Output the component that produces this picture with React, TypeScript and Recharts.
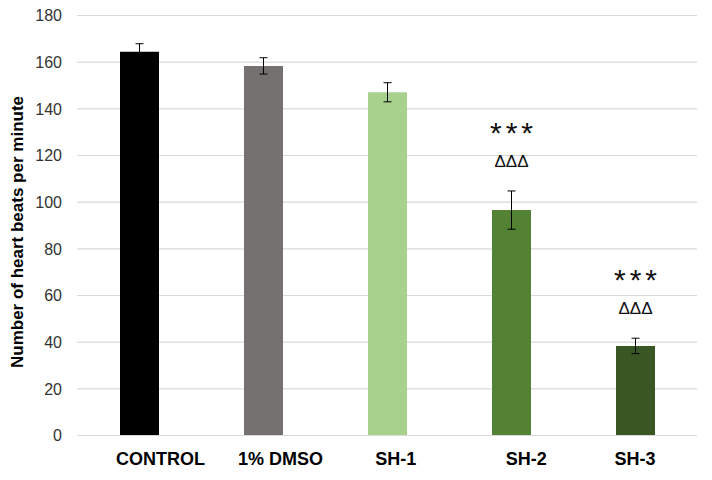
import { BarChart, Bar, XAxis, YAxis, CartesianGrid, ErrorBar, Cell, LabelList } from "recharts";

// ---- chart data ----
const categories = ["CONTROL", "1% DMSO", "SH-1", "SH-2", "SH-3"];
const beats = [164.5, 158.4, 147.1, 96.6, 38.4];
const errors = [3.4, 3.5, 4.1, 8.2, 3.3];
const stars = ["", "", "", "***", "***"];
const deltas = ["", "", "", "ΔΔΔ", "ΔΔΔ"];
const yTicks = [0, 20, 40, 60, 80, 100, 120, 140, 160, 180];

const barColors = ["#000000", "#767171", "#A9D18E", "#548235", "#385723"];
// category labels in the original sit a bit right of their bars
const labelShift = [21.5, 17.5, 8.8, 15.2, 0];

const W = 712;
const H = 480;
const X_AXIS_H = 44.5;
const M = { top: 15.5, right: 15, bottom: 0, left: 0 };
const Y_MAX = 180;
const pxPerUnit = (H - M.top - X_AXIS_H) / Y_MAX;
const FONT = "'Liberation Sans', Arial, sans-serif";

const data = categories.map((name, i) => ({
  name,
  beats: beats[i],
  err: errors[i],
  sig: stars[i],
}));

function CategoryTick(props: any) {
  const { x, y, payload, index } = props;
  return (
    <text
      x={x + (labelShift[index] ?? 0)}
      y={y + 29}
      textAnchor="middle"
      fontFamily={FONT}
      fontSize={18}
      fontWeight="bold"
      fill="#000"
    >
      {payload.value}
    </text>
  );
}

function SigLabel(props: any) {
  const { x, y, width, index } = props;
  if (!stars[index]) return null;
  const cx = x + width / 2;
  const errTop = y - errors[index] * pxPerUnit;
  return (
    <g fontFamily={FONT} fill="#111">
      <text x={cx + 2} y={errTop - 48} textAnchor="middle" fontSize={30} letterSpacing={4}>
        {stars[index]}
      </text>
      <text x={cx} y={errTop - 24} textAnchor="middle" fontSize={17}>
        {deltas[index]}
      </text>
    </g>
  );
}

export default function App() {
  return (
    <div style={{ position: "absolute", left: 0, top: 0, width: W, height: H, background: "#fff" }}>
      <BarChart width={W} height={H} data={data} margin={M}>
        <CartesianGrid vertical={false} stroke="#d9d9d9" strokeWidth={1.2} />
        <XAxis
          dataKey="name"
          axisLine={{ stroke: "#d9d9d9", strokeWidth: 1.2 }}
          tickLine={false}
          tickSize={0}
          tickMargin={0}
          height={X_AXIS_H}
          interval={0}
          tick={<CategoryTick />}
        />
        <YAxis
          width={77}
          domain={[0, Y_MAX]}
          ticks={yTicks}
          axisLine={false}
          tickLine={false}
          tickSize={0}
          tickMargin={15}
          tick={{ fontFamily: FONT, fontSize: 16, fill: "#333333" }}
          label={{
            content: () => (
              <text
                x={23}
                y={232}
                transform="rotate(-90 23 232)"
                textAnchor="middle"
                fontFamily={FONT}
                fontSize={17}
                fontWeight="bold"
                fill="#000"
              >
                Number of heart beats per minute
              </text>
            ),
          }}
        />
        <Bar dataKey="beats" barSize={39} isAnimationActive={false}>
          {data.map((d, i) => (
            <Cell key={d.name} fill={barColors[i]} />
          ))}
          <ErrorBar dataKey="err" direction="y" width={4} stroke="#000" strokeWidth={1} />
          <LabelList dataKey="sig" content={<SigLabel />} />
        </Bar>
      </BarChart>
    </div>
  );
}
